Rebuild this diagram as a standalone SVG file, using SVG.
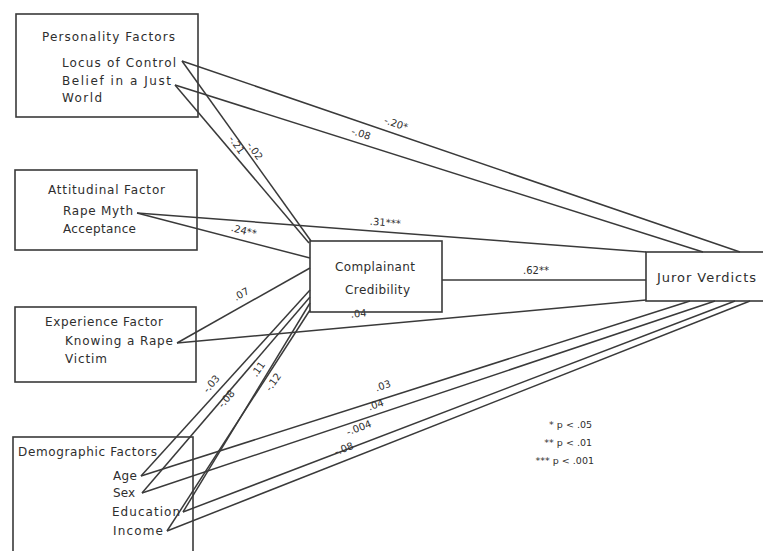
<svg xmlns="http://www.w3.org/2000/svg" width="763" height="551" viewBox="0 0 763 551">
<style>
.box{fill:none;stroke:#3a3a3a;stroke-width:1.6}
.ln{fill:none;stroke:#3a3a3a;stroke-width:1.5}
text{font-family:"DejaVu Sans","Liberation Sans",sans-serif;fill:#2e2e2e}
.t{font-size:12px}
.big{font-size:13px}
.lb{font-size:10px;text-anchor:middle}
.lg{font-size:9.5px;text-anchor:end}
</style>
<rect width="763" height="551" fill="#ffffff"/>
<g id="connectors">
  <line class="ln" x1="182" y1="61" x2="740" y2="252"/>
  <line class="ln" x1="175" y1="85" x2="703" y2="252"/>
  <line class="ln" x1="182" y1="61" x2="311" y2="241"/>
  <line class="ln" x1="175" y1="85" x2="309" y2="243"/>
  <line class="ln" x1="137" y1="213" x2="646" y2="252"/>
  <line class="ln" x1="137" y1="213" x2="310" y2="258"/>
  <line class="ln" x1="177" y1="343" x2="310" y2="268"/>
  <line class="ln" x1="177" y1="343" x2="646" y2="300"/>
  <line class="ln" x1="442" y1="280" x2="646" y2="280"/>
  <line class="ln" x1="141" y1="476" x2="310" y2="290"/>
  <line class="ln" x1="142" y1="493" x2="310" y2="297"/>
  <line class="ln" x1="183" y1="512" x2="310" y2="303"/>
  <line class="ln" x1="167" y1="531" x2="310" y2="310"/>
  <line class="ln" x1="141" y1="476" x2="690" y2="301"/>
  <line class="ln" x1="142" y1="493" x2="715" y2="301"/>
  <line class="ln" x1="183" y1="512" x2="735" y2="301"/>
  <line class="ln" x1="167" y1="531" x2="750" y2="301"/>
</g>
<g id="labels">
  <text class="lb" transform="translate(395,127) rotate(19)">-.20*</text>
  <text class="lb" transform="translate(360,137) rotate(18)">-.08</text>
  <text class="lb" transform="translate(234,147) rotate(54)">-.21</text>
  <text class="lb" transform="translate(252,153) rotate(54)">-.02</text>
  <text class="lb" transform="translate(385,226) rotate(4.5)">.31***</text>
  <text class="lb" transform="translate(243,234) rotate(14)">.24**</text>
  <text class="lb" transform="translate(243,297) rotate(-30)">.07</text>
  <text class="lb" transform="translate(359,317) rotate(-5)">.04</text>
  <text class="lb" transform="translate(536,274)">.62**</text>
  <text class="lb" transform="translate(214,386) rotate(-50)">-.03</text>
  <text class="lb" transform="translate(229,401) rotate(-50)">-.08</text>
  <text class="lb" transform="translate(261,371) rotate(-55)">.11</text>
  <text class="lb" transform="translate(276,384) rotate(-55)">-.12</text>
  <text class="lb" transform="translate(384,389) rotate(-18)">.03</text>
  <text class="lb" transform="translate(377,408) rotate(-19)">.04</text>
  <text class="lb" transform="translate(360,431) rotate(-21)">-.004</text>
  <text class="lb" transform="translate(345,452) rotate(-21)">-.08</text>
</g>
<g id="personality">
  <rect class="box" x="16" y="14" width="182" height="103"/>
  <text class="t" x="42" y="41" textLength="133">Personality Factors</text>
  <text class="t" x="62" y="67" textLength="114">Locus of Control</text>
  <text class="t" x="62" y="85" textLength="109">Belief in a Just</text>
  <text class="t" x="62" y="102" textLength="40">World</text>
</g>
<g id="attitudinal">
  <rect class="box" x="15" y="170" width="182" height="80"/>
  <text class="t" x="48" y="194" textLength="117">Attitudinal Factor</text>
  <text class="t" x="63" y="215" textLength="70">Rape Myth</text>
  <text class="t" x="63" y="233" textLength="73">Acceptance</text>
</g>
<g id="experience">
  <rect class="box" x="15" y="307" width="181" height="75"/>
  <text class="t" x="45" y="326" textLength="118">Experience Factor</text>
  <text class="t" x="65" y="345" textLength="108">Knowing a Rape</text>
  <text class="t" x="65" y="363" textLength="42">Victim</text>
</g>
<g id="demographic">
  <rect class="box" x="13" y="437" width="180" height="130"/>
  <text class="t" x="18" y="456" textLength="139">Demographic Factors</text>
  <text class="t" x="113" y="480" textLength="24">Age</text>
  <text class="t" x="113" y="497" textLength="22">Sex</text>
  <text class="t" x="112" y="516" textLength="68">Education</text>
  <text class="t" x="113" y="535" textLength="50">Income</text>
</g>
<g id="credibility">
  <rect class="box" x="310" y="241" width="132" height="71"/>
  <text class="t" x="335" y="271" textLength="80">Complainant</text>
  <text class="t" x="345" y="294" textLength="65">Credibility</text>
</g>
<g id="verdicts">
  <rect class="box" x="646" y="252" width="130" height="49"/>
  <text class="big" x="657" y="282" textLength="99">Juror Verdicts</text>
</g>
<g id="legend">
  <text class="lg" x="592" y="428">* p &lt; .05</text>
  <text class="lg" x="592" y="446">** p &lt; .01</text>
  <text class="lg" x="594" y="464">*** p &lt; .001</text>
</g>
</svg>
